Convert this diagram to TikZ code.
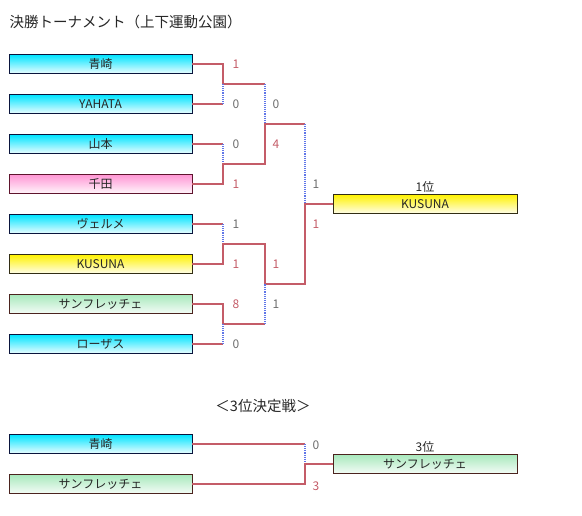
\documentclass[tikz,border=0pt]{standalone}
\usepackage{fontspec}
\setmainfont{Noto Sans CJK JP}
\usepackage{xcolor}
\usepackage{tikz}
\usetikzlibrary{positioning}

\definecolor{winred}{RGB}{196,92,104}
\definecolor{losegray}{RGB}{110,110,110}
\definecolor{dotblue}{RGB}{96,118,232}
\definecolor{cyantop}{RGB}{0,228,255}
\definecolor{pinktop}{RGB}{255,150,212}
\definecolor{yellowtop}{RGB}{255,242,0}
\definecolor{greentop}{RGB}{168,232,188}

\begin{document}
\begin{tikzpicture}[
  x=1pt, y=-1pt,
  team/.style={rectangle, draw, line width=1pt, outer sep=0pt, inner sep=0pt, minimum width=183pt, minimum height=19pt, text=black!85, font=\fontsize{12}{12}\selectfont},
  cyanbox/.style={team, draw={rgb,255:red,10;green,20;blue,60}, top color=cyantop, bottom color=cyantop!8},
  pinkbox/.style={team, draw={rgb,255:red,95;green,20;blue,45}, top color=pinktop, bottom color=pinktop!8},
  yellowbox/.style={team, draw={rgb,255:red,50;green,45;blue,20}, top color=yellowtop, bottom color=yellowtop!8},
  greenbox/.style={team, draw={rgb,255:red,75;green,35;blue,30}, top color=greentop, bottom color=greentop!12},
  win/.style={draw=winred, line width=2pt},
  lose/.style={draw=dotblue, line width=1.1pt, densely dotted},
  wscore/.style={text=winred, font=\fontsize{12}{12}\selectfont, inner sep=1pt},
  lscore/.style={text=losegray, font=\fontsize{12}{12}\selectfont, inner sep=1pt},
  heading/.style={text=black!85, font=\fontsize{14.5}{14.5}\selectfont},
  rank/.style={text=black!85, font=\fontsize{12}{12}\selectfont, inner sep=1pt}
]
\useasboundingbox (0,0) rectangle (582,515);

\node[heading, anchor=west] (title) at (6,22) {決勝トーナメント（上下運動公園）};

\node[cyanbox] (aosaki) at (100.5,64) {青崎};
\node[cyanbox, below=21pt of aosaki] (yahata) {YAHATA};
\node[cyanbox, below=21pt of yahata] (yamamoto) {山本};
\node[pinkbox, below=21pt of yamamoto] (chida) {千田};
\node[cyanbox, below=21pt of chida] (verme) {ヴェルメ};
\node[yellowbox, below=21pt of verme] (kusuna) {KUSUNA};
\node[greenbox, below=21pt of kusuna] (sanfre) {サンフレッチェ};
\node[cyanbox, below=21pt of sanfre] (rosas) {ローザス};

\node[yellowbox, minimum width=184pt] (final1) at (425,204) {KUSUNA};
\node[rank, above=1pt of final1] (first) {1位};

\coordinate (m1) at (223,84);
\coordinate (m2) at (223,164);
\coordinate (m3) at (223,244);
\coordinate (m4) at (223,324);
\coordinate (s1) at (265,124);
\coordinate (s2) at (265,284);
\coordinate (f1) at (305,204);

\draw[win] (aosaki.east) -| (m1) -- (m1 -| s1);
\draw[win] (yahata.east) -- (yahata.east -| m1);
\draw[lose] (yahata.east -| m1) -- (m1);
\draw[lose] (m1 -| s1) -- (s1);
\draw[win] (yamamoto.east) -- (yamamoto.east -| m2);
\draw[lose] (yamamoto.east -| m2) -- (m2);
\draw[win] (chida.east) -| (m2) -- (m2 -| s1) -- (s1) -- (s1 -| f1);
\draw[lose] (s1 -| f1) -- (f1);
\draw[win] (verme.east) -- (verme.east -| m3);
\draw[lose] (verme.east -| m3) -- (m3);
\draw[win] (kusuna.east) -| (m3) -- (m3 -| s2) -- (s2) -- (s2 -| f1) -- (f1) -- (final1.west);
\draw[win] (sanfre.east) -| (m4) -- (m4 -| s2);
\draw[win] (rosas.east) -- (rosas.east -| m4);
\draw[lose] (rosas.east -| m4) -- (m4);
\draw[lose] (m4 -| s2) -- (s2);

\node[wscore] (sa1) at (236,64) {1};
\node[lscore] (sa2) at (236,104) {0};
\node[lscore] (sa3) at (236,144) {0};
\node[wscore] (sa4) at (236,184) {1};
\node[lscore] (sa5) at (236,224) {1};
\node[wscore] (sa6) at (236,264) {1};
\node[wscore] (sa7) at (236,304) {8};
\node[lscore] (sa8) at (236,344) {0};
\node[lscore] (sb1) at (276,104) {0};
\node[wscore] (sb2) at (276,144) {4};
\node[wscore] (sb3) at (276,264) {1};
\node[lscore] (sb4) at (276,304) {1};
\node[lscore] (sc1) at (316,184) {1};
\node[wscore] (sc2) at (316,224) {1};

\node[heading] (third) at (263,406) {＜3位決定戦＞};

\node[cyanbox] (aosakib) at (100.5,444) {青崎};
\node[greenbox, below=21pt of aosakib] (sanfreb) {サンフレッチェ};
\node[greenbox, minimum width=184pt] (final3) at (425,464) {サンフレッチェ};
\node[rank, above=1pt of final3] (thirdrank) {3位};

\coordinate (t1) at (305,464);

\draw[win] (aosakib.east) -- (aosakib.east -| t1);
\draw[lose] (aosakib.east -| t1) -- (t1);
\draw[win] (sanfreb.east) -| (t1) -- (final3.west);

\node[lscore] (sd1) at (316,445) {0};
\node[wscore] (sd2) at (316,486) {3};
\end{tikzpicture}
\end{document}
